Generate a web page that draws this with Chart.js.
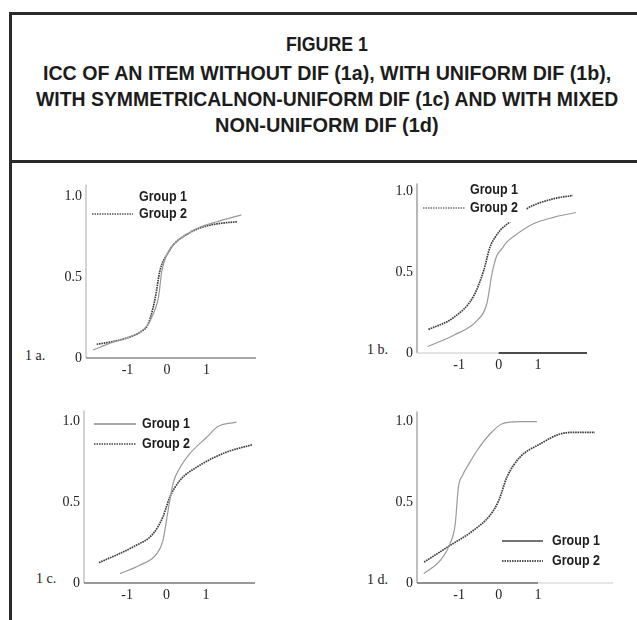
<!DOCTYPE html>
<html><head><meta charset="utf-8">
<script src="https://cdn.jsdelivr.net/npm/chart.js@4.4.1/dist/chart.umd.min.js"></script>
<style>
html,body{margin:0;padding:0;background:#fff;width:637px;height:620px;overflow:hidden;position:relative}
.frame{position:absolute;background:#2a2a2a}
.tl{position:absolute;white-space:nowrap;font-family:'Liberation Sans',Arial,sans-serif;font-weight:bold;font-size:21px;line-height:21px;color:#1c1c1c;transform-origin:0 50%}
.pl{position:absolute;font-family:'Liberation Serif','Times New Roman',serif;font-size:14px;line-height:14px;color:#222;white-space:nowrap}
canvas{position:absolute}
</style></head><body>
<div class="frame" style="left:9px;top:12px;width:640px;height:3px"></div>
<div class="frame" style="left:9px;top:12px;width:3px;height:620px"></div>
<div class="frame" style="left:9px;top:160px;width:640px;height:3px"></div>
<script>
// ---- text ----
const titleLines = [
  'FIGURE 1',
  'ICC OF AN ITEM WITHOUT DIF (1a), WITH UNIFORM DIF (1b),',
  'WITH SYMMETRICALNON-UNIFORM DIF (1c) AND WITH MIXED',
  'NON-UNIFORM DIF (1d)'
];
const panelLabels = ['1 a.', '1 b.', '1 c.', '1 d.'];
const seriesNames = ['Group 1', 'Group 2'];

// ---- axes ----
const xTicks = [-1, 0, 1];
const yTicks = [0, 0.5, 1.0];

// ---- data (theta, probability) ----
const thetaA1 = [-1.87,-1.4,-1.0,-0.7,-0.5,-0.39,-0.22,-0.13,0,0.16,0.5,0.84,1.26,1.88];
const probA1  = [0.05,0.095,0.125,0.157,0.2,0.25,0.37,0.54,0.64,0.7,0.765,0.81,0.843,0.885];
const thetaA2 = [-1.78,-1.4,-1.0,-0.7,-0.5,-0.42,-0.3,-0.18,0,0.16,0.5,0.84,1.26,1.77];
const probA2  = [0.085,0.1,0.125,0.157,0.2,0.25,0.37,0.54,0.64,0.7,0.765,0.805,0.83,0.843];

const thetaB1 = [-1.80,-1.14,-0.55,-0.30,-0.17,-0.05,0.08,0.2,0.37,0.88,1.39,1.96];
const probB1  = [0.04,0.11,0.20,0.305,0.49,0.60,0.645,0.685,0.72,0.80,0.84,0.87];
const thetaB2 = [-1.78,-1.14,-0.64,-0.38,-0.22,-0.08,0.04,0.31,0.71,1.39,1.88];
const probB2  = [0.145,0.22,0.35,0.51,0.655,0.72,0.76,0.816,0.893,0.955,0.975];

const thetaC1 = [-1.18,-0.68,-0.25,-0.09,0.04,0.17,0.32,0.59,1.01,1.31,1.77];
const probC1  = [0.058,0.11,0.18,0.264,0.45,0.62,0.705,0.80,0.90,0.97,0.995];
const thetaC2 = [-1.71,-0.85,-0.34,-0.09,0.08,0.34,0.84,1.52,2.18];
const probC2  = [0.126,0.223,0.305,0.41,0.53,0.635,0.728,0.81,0.856];

const thetaD1 = [-1.90,-1.48,-1.23,-1.10,-1.02,-0.92,-0.75,-0.55,-0.22,0.08,0.54,0.97];
const probD1  = [0.058,0.14,0.244,0.367,0.594,0.665,0.74,0.82,0.924,0.986,1.0,1.0];
const thetaD2 = [-1.89,-1.23,-0.64,-0.22,0.0,0.21,0.54,1.05,1.56,1.89,2.44];
const probD2  = [0.13,0.233,0.326,0.419,0.51,0.656,0.78,0.862,0.924,0.934,0.934];

// ---- title ----
const titleCenterX = 327;
const titleY = [43, 72, 98, 124];
const titleW = [82, 568, 582, 224];
titleLines.forEach((t, i) => {
  const d = document.createElement('div');
  d.className = 'tl';
  d.textContent = t;
  document.body.appendChild(d);
  const w = d.offsetWidth;
  d.style.left = (titleCenterX - titleW[i] / 2) + 'px';
  d.style.top = (titleY[i] - 10.5) + 'px';
  d.style.transform = 'scaleX(' + (titleW[i] / w) + ')';
});

// ---- styles ----
const g1Style = {borderColor: '#9a9a9a', borderWidth: 1.2, borderDash: []};
const g2Style = {borderColor: '#3c3c3c', borderWidth: 1.7, borderDash: [1.6, 0.8]};

const panels = [
  {L:86, T:184, R:256, B:358, xMin:-2.05, xMax:2.25, yMax:1.074,
   g1:[thetaA1, probA1], g2:[thetaA2, probA2],
   yAxisColor:'#c4c4c4', xAxis:[[-2.05, 2.25, '#8c8c8c']],
   label:{x:25, y:356},
   legend:[{tx:139, ty:197, line:null},
           {tx:139, ty:214, line:[92,133], color:'#555', dash:[1.5,1], w:1.6}],
   mask:null},
  {L:417, T:183, R:587, B:353, xMin:-2.07, xMax:2.24, yMax:1.05,
   g1:[thetaB1, probB1], g2:[thetaB2, probB2],
   yAxisColor:'#a0a0a0', xAxis:[[-2.07, 0, '#dadada'], [0, 2.24, '#111']],
   label:{x:367, y:350},
   legend:[{tx:470, ty:190, line:null},
           {tx:470, ty:208, line:[423,465], color:'#777', dash:[1.5,1], w:1.6}],
   mask:[466,178,526,222]},
  {L:84, T:410, R:255, B:583, xMin:-2.09, xMax:2.24, yMax:1.068,
   g1:[thetaC1, probC1], g2:[thetaC2, probC2],
   yAxisColor:'#c4c4c4', xAxis:[[-2.09, 2.24, '#777']],
   label:{x:36, y:579},
   legend:[{tx:142, ty:424, line:[94,136], color:'#8a8a8a', dash:[], w:1.5},
           {tx:142, ty:444, line:[94,136], color:'#444', dash:[1.5,1], w:1.6}],
   mask:null},
  {L:417, T:411, R:613, B:583, xMin:-2.07, xMax:2.9, yMax:1.064,
   g1:[thetaD1, probD1], g2:[thetaD2, probD2],
   yAxisColor:'#a8a8a8', xAxis:[[-2.07, 1.0, '#6a6a6a'], [1.0, 2.9, '#dddddd']],
   label:{x:367, y:580},
   legend:[{tx:552, ty:541, line:[502,543], color:'#444', dash:[], w:1.3},
           {tx:552, ty:561, line:[502,543], color:'#555', dash:[1.5,1], w:1.8}],
   mask:null}
];

const padL = 44, padT = 12, padR = 24, padB = 32;
const tickFont = {family: "'Liberation Serif','Times New Roman',serif", size: 14};

panels.forEach((p, idx) => {
  const lab = document.createElement('div');
  lab.className = 'pl';
  lab.textContent = panelLabels[idx];
  lab.style.left = p.label.x + 'px';
  lab.style.top = (p.label.y - 7) + 'px';
  document.body.appendChild(lab);

  const cw = (p.R - p.L) + padL + padR;
  const ch = (p.B - p.T) + padT + padB;
  const ox = p.L - padL, oy = p.T - padT;
  const cv = document.createElement('canvas');
  cv.width = cw; cv.height = ch;
  cv.style.left = ox + 'px'; cv.style.top = oy + 'px';
  cv.style.width = cw + 'px'; cv.style.height = ch + 'px';
  document.body.appendChild(cv);

  const axisPlugin = {
    id: 'axisLines' + idx,
    beforeDatasetsDraw(chart) {
      const c = chart.ctx, a = chart.chartArea, xs = chart.scales.x;
      c.save();
      c.lineWidth = 1.5;
      c.strokeStyle = p.yAxisColor;
      c.beginPath(); c.moveTo(a.left, a.top); c.lineTo(a.left, a.bottom); c.stroke();
      p.xAxis.forEach(s => {
        c.strokeStyle = s[2];
        c.beginPath();
        c.moveTo(xs.getPixelForValue(s[0]), a.bottom);
        c.lineTo(xs.getPixelForValue(s[1]), a.bottom);
        c.stroke();
      });
      c.restore();
    }
  };
  const legendPlugin = {
    id: 'legendBox' + idx,
    afterDatasetsDraw(chart) {
      const c = chart.ctx;
      c.save();
      if (p.mask) {
        c.fillStyle = '#fff';
        c.fillRect(p.mask[0] - ox, p.mask[1] - oy, p.mask[2] - p.mask[0], p.mask[3] - p.mask[1]);
      }
      p.legend.forEach((it, k) => {
        if (it.line) {
          c.strokeStyle = it.color; c.lineWidth = it.w; c.setLineDash(it.dash);
          c.beginPath();
          c.moveTo(it.line[0] - ox, it.ty - oy);
          c.lineTo(it.line[1] - ox, it.ty - oy);
          c.stroke();
          c.setLineDash([]);
        }
        c.font = "bold 14px 'Liberation Sans', Arial, sans-serif";
        c.fillStyle = '#1e1e1e';
        c.textBaseline = 'middle';
        c.textAlign = 'left';
        const mw = c.measureText(seriesNames[k]).width;
        c.save();
        c.translate(it.tx - ox, it.ty - oy);
        c.scale(48 / mw, 1);
        c.fillText(seriesNames[k], 0, 0);
        c.restore();
      });
      c.restore();
    }
  };

  const mk = (arr) => arr[0].map((t, i) => ({x: t, y: arr[1][i]}));
  new Chart(cv, {
    type: 'line',
    data: {
      datasets: [
        Object.assign({label: seriesNames[0], data: mk(p.g1), pointRadius: 0,
          cubicInterpolationMode: 'monotone', fill: false}, g1Style),
        Object.assign({label: seriesNames[1], data: mk(p.g2), pointRadius: 0,
          cubicInterpolationMode: 'monotone', fill: false}, g2Style)
      ]
    },
    options: {
      responsive: false, animation: false, devicePixelRatio: 1,
      layout: {padding: {left: 0, top: padT, right: padR, bottom: 0}},
      plugins: {legend: {display: false}, tooltip: {enabled: false}},
      scales: {
        x: {
          type: 'linear', min: p.xMin, max: p.xMax,
          grid: {display: false, drawTicks: false}, border: {display: false},
          afterBuildTicks: s => { s.ticks = xTicks.map(v => ({value: v})); },
          afterFit: s => { s.height = padB; },
          ticks: {padding: 4, font: tickFont, color: '#222', callback: v => String(v)}
        },
        y: {
          type: 'linear', min: 0, max: p.yMax,
          grid: {display: false, drawTicks: false}, border: {display: false},
          afterBuildTicks: s => { s.ticks = yTicks.map(v => ({value: v})); },
          afterFit: s => { s.width = padL; },
          ticks: {padding: 4, font: tickFont, color: '#222',
                  callback: v => (v === 0 ? '0' : v.toFixed(1))}
        }
      }
    },
    plugins: [axisPlugin, legendPlugin]
  });
});
</script>
</body></html>
